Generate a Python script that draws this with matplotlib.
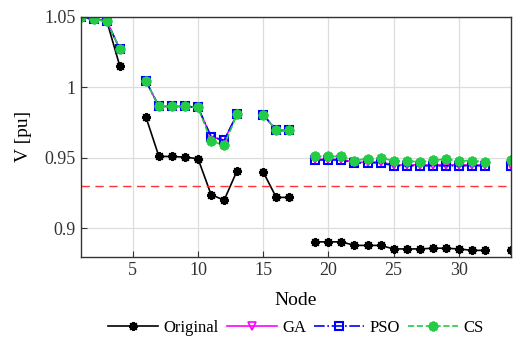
import numpy as np
import matplotlib
matplotlib.use("Agg")
import matplotlib.pyplot as plt

plt.rcParams['font.family'] = ['Liberation Serif', 'DejaVu Serif']

nan = np.nan
nodes = np.arange(1, 35)

original = [1.050, 1.048, 1.047, 1.015, nan, 0.979, 0.951, 0.951, 0.9505, 0.9494,
            0.924, 0.920, 0.941, nan, 0.940, 0.922, 0.922, nan,
            0.8905, 0.8905, 0.8905, 0.888, 0.888, 0.888, 0.8855, 0.8855, 0.8855,
            0.886, 0.886, 0.8855, 0.8845, 0.8845, nan, 0.8845]

ga = [1.050, 1.048, 1.047, 1.027, nan, 1.0045, 0.9864, 0.9864, 0.9864, 0.9857,
      0.965, 0.9625, 0.981, nan, 0.9807, 0.9694, 0.9694, nan,
      0.9490, 0.9490, 0.9490, 0.9468, 0.9470, 0.9470, 0.9450, 0.9450, 0.9450,
      0.9450, 0.9450, 0.9450, 0.9450, 0.9450, nan, 0.9450]

pso = [1.050, 1.048, 1.047, 1.027, nan, 1.0045, 0.9864, 0.9864, 0.9864, 0.9857,
       0.965, 0.9623, 0.981, nan, 0.9807, 0.9694, 0.9694, nan,
       0.9485, 0.9485, 0.9485, 0.9463, 0.9465, 0.9465, 0.9444, 0.9444, 0.9444,
       0.9444, 0.9444, 0.9444, 0.9444, 0.9444, nan, 0.9444]

cs = [1.050, 1.048, 1.047, 1.027, nan, 1.0045, 0.9864, 0.9864, 0.9864, 0.9857,
      0.962, 0.9588, 0.981, nan, 0.9807, 0.9694, 0.9694, nan,
      0.951, 0.951, 0.951, 0.948, 0.9494, 0.9499, 0.948, 0.948, 0.947,
      0.9484, 0.949, 0.948, 0.948, 0.947, nan, 0.9487]

v_limit = 0.93

asterisk = (8, 2, 0)

fig = plt.figure(figsize=(5.14, 3.40), dpi=100)
ax = fig.add_axes([0.157, 0.245, 0.837, 0.706])

ax.plot(nodes, original, color='black', linestyle='-', marker=asterisk, markersize=6.5,
        markeredgewidth=1.4, linewidth=1.2, label='Original')
ax.plot(nodes, ga, color='magenta', linestyle='-', marker='v', markersize=6,
        markerfacecolor='none', markeredgewidth=1.2, linewidth=1.2, label='GA')
ax.plot(nodes, pso, color='blue', linestyle='-.', marker='s', markersize=6,
        markerfacecolor='none', markeredgewidth=1.5, linewidth=1.2, label='PSO')
ax.plot(nodes, cs, color='#22cc44', linestyle='--', marker=asterisk, markersize=7,
        markeredgewidth=2.0, linewidth=1.2, label='CS')
ax.axhline(v_limit, color='#ff3333', linestyle=(0, (6, 4)), linewidth=1.0)

ax.set_xlim(1, 34)
ax.set_ylim(0.88, 1.05)
ax.set_xticks([5, 10, 15, 20, 25, 30])
ax.set_yticks([0.9, 0.95, 1.0, 1.05])
ax.set_yticklabels(['0.9', '0.95', '1', '1.05'])
ax.grid(True, color='#dddddd', linewidth=0.9)
ax.set_axisbelow(True)
ax.tick_params(labelsize=13, direction='in', length=4, colors='#333333')
for s in ax.spines.values():
    s.set_color('#333333')
    s.set_linewidth(1.0)

ax.set_xlabel('Node', fontsize=14, labelpad=10)
ax.set_ylabel('V [pu]', fontsize=14, labelpad=9)

ax.legend(loc='upper center', bbox_to_anchor=(0.5, -0.2), ncol=4, frameon=False,
          fontsize=12, handlelength=3.0, columnspacing=0.5, handletextpad=0.3)

fig.savefig('out.png', dpi=100)
